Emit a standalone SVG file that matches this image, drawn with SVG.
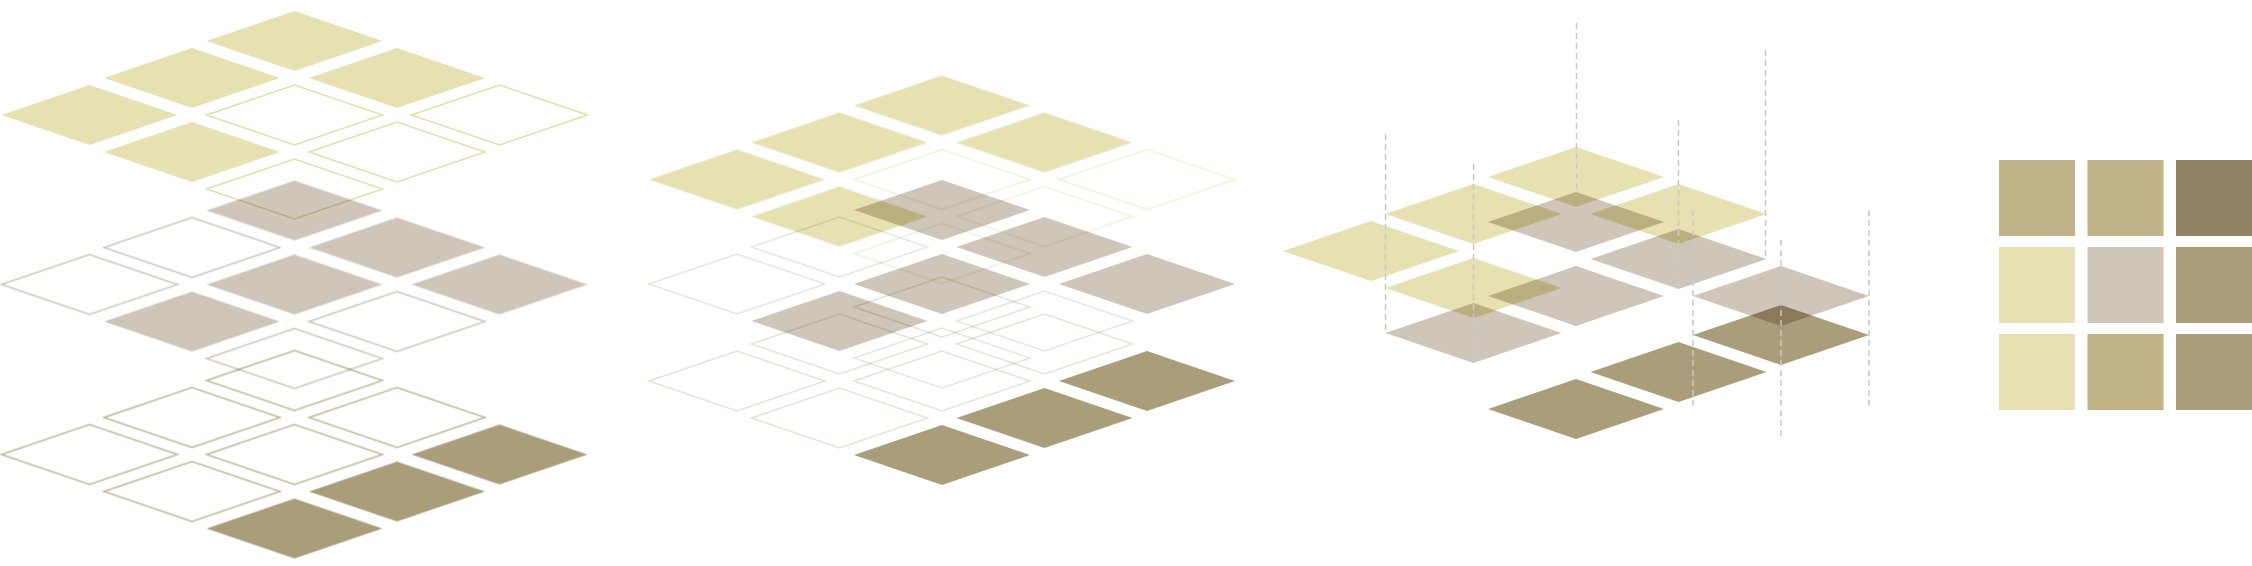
<svg xmlns="http://www.w3.org/2000/svg" xmlns:xlink="http://www.w3.org/1999/xlink" width="2252" height="566" viewBox="0 0 2252 566">
<style>
  .m{mix-blend-mode:multiply}
  .fy{fill:#e7e1b1}
  .fg{fill:#cfc6b9}
  .ft{fill:#aa9d7a}
  .oy{fill:none;stroke:#e6dea8;stroke-width:1.5}
  .og{fill:none;stroke:#cfc6b9;stroke-width:1.5}
  .ot{fill:none;stroke:#c2b795;stroke-width:1.5}
  .py{fill:none;stroke:#e7e1b1;stroke-width:1.5;stroke-opacity:0.5}
  .pg{fill:none;stroke:#cfc6b9;stroke-width:1.5;stroke-opacity:0.45}
  .pt{fill:none;stroke:#c2b795;stroke-width:1.5;stroke-opacity:0.4}
  .dash{stroke:#c9c9c9;stroke-width:1.5;stroke-dasharray:6 4;fill:none}
</style>
<defs>
  <polygon id="d" points="-88,0 0,-30 88,0 0,30"/>
</defs>
<rect width="2252" height="566" fill="#ffffff"/>

<g id="fig1">
  <g id="fig1-top" class="m">
    <use href="#d" class="fy" x="294.5" y="41"/>
    <use href="#d" class="fy" x="397" y="78"/>
    <use href="#d" class="fy" x="192" y="78"/>
    <use href="#d" class="fy" x="89.5" y="115"/>
    <use href="#d" class="fy" x="192" y="152"/>
    <use href="#d" class="oy" x="499.5" y="115"/>
    <use href="#d" class="oy" x="294.5" y="115"/>
    <use href="#d" class="oy" x="397" y="152"/>
    <use href="#d" class="oy" x="294.5" y="189"/>
  </g>
  <g id="fig1-mid">
    <use href="#d" class="fg m" x="294.5" y="210.5"/>
    <use href="#d" class="fg m" x="397" y="247.5"/>
    <use href="#d" class="fg m" x="499.5" y="284.5"/>
    <use href="#d" class="fg m" x="294.5" y="284.5"/>
    <use href="#d" class="fg m" x="192" y="321.5"/>
    <use href="#d" class="og m" x="192" y="247.5"/>
    <use href="#d" class="og m" x="89.5" y="284.5"/>
    <use href="#d" class="og m" x="397" y="321.5"/>
    <use href="#d" class="og m" x="294.5" y="358.5"/>
  </g>
  <g id="fig1-bot">
    <use href="#d" class="ft m" x="499.5" y="454.5"/>
    <use href="#d" class="ft m" x="397" y="491.5"/>
    <use href="#d" class="ft m" x="294.5" y="528.5"/>
    <use href="#d" class="ot m" x="294.5" y="380.5"/>
    <use href="#d" class="ot m" x="397" y="417.5"/>
    <use href="#d" class="ot m" x="192" y="417.5"/>
    <use href="#d" class="ot m" x="294.5" y="454.5"/>
    <use href="#d" class="ot m" x="89.5" y="454.5"/>
    <use href="#d" class="ot m" x="192" y="491.5"/>
  </g>
</g>

<g id="fig2">
  <g id="fig2-top">
    <use href="#d" class="fy m" x="942" y="105.5"/>
    <use href="#d" class="fy m" x="1044.5" y="142.5"/>
    <use href="#d" class="fy m" x="839.5" y="142.5"/>
    <use href="#d" class="fy m" x="737" y="179.5"/>
    <use href="#d" class="fy m" x="839.5" y="216.5"/>
    <use href="#d" class="py m" x="1147" y="179.5"/>
    <use href="#d" class="py m" x="942" y="179.5"/>
    <use href="#d" class="py m" x="1044.5" y="216.5"/>
    <use href="#d" class="py m" x="942" y="253.5"/>
  </g>
  <g id="fig2-mid">
    <use href="#d" class="fg m" x="942" y="210"/>
    <use href="#d" class="fg m" x="1044.5" y="247"/>
    <use href="#d" class="fg m" x="1147" y="284"/>
    <use href="#d" class="fg m" x="942" y="284"/>
    <use href="#d" class="fg m" x="839.5" y="321"/>
    <use href="#d" class="pg m" x="839.5" y="247"/>
    <use href="#d" class="pg m" x="737" y="284"/>
    <use href="#d" class="pg m" x="1044.5" y="321"/>
    <use href="#d" class="pg m" x="942" y="358"/>
  </g>
  <g id="fig2-bot">
    <use href="#d" class="ft m" x="1147" y="381"/>
    <use href="#d" class="ft m" x="1044.5" y="418"/>
    <use href="#d" class="ft m" x="942" y="455"/>
    <use href="#d" class="pt m" x="942" y="307"/>
    <use href="#d" class="pt m" x="1044.5" y="344"/>
    <use href="#d" class="pt m" x="839.5" y="344"/>
    <use href="#d" class="pt m" x="942" y="381"/>
    <use href="#d" class="pt m" x="737" y="381"/>
    <use href="#d" class="pt m" x="839.5" y="418"/>
  </g>
</g>

<g id="fig3">
  <g id="fig3-top">
    <use href="#d" class="fy m" x="1576" y="177"/>
    <use href="#d" class="fy m" x="1678.5" y="214"/>
    <use href="#d" class="fy m" x="1473.5" y="214"/>
    <use href="#d" class="fy m" x="1371" y="251"/>
    <use href="#d" class="fy m" x="1473.5" y="288"/>
  </g>
  <g id="fig3-mid">
    <use href="#d" class="fg m" x="1576" y="222"/>
    <use href="#d" class="fg m" x="1678.5" y="259"/>
    <use href="#d" class="fg m" x="1781" y="296"/>
    <use href="#d" class="fg m" x="1576" y="296"/>
    <use href="#d" class="fg m" x="1473.5" y="333"/>
  </g>
  <g id="fig3-bot">
    <use href="#d" class="ft m" x="1781" y="335"/>
    <use href="#d" class="ft m" x="1678.5" y="372"/>
    <use href="#d" class="ft m" x="1576" y="409"/>
  </g>
  <g id="connectors" class="dash">
    <line x1="1385.5" y1="134" x2="1385.5" y2="333"/>
    <line x1="1473.5" y1="164" x2="1473.5" y2="363"/>
    <line x1="1576.5" y1="23" x2="1576.5" y2="193"/>
    <line x1="1678.5" y1="120" x2="1678.5" y2="290"/>
    <line x1="1765.5" y1="50" x2="1765.5" y2="260"/>
    <line x1="1693" y1="210" x2="1693" y2="410"/>
    <line x1="1781" y1="240" x2="1781" y2="440"/>
    <line x1="1869" y1="210" x2="1869" y2="410"/>
  </g>
</g>

<g id="swatches">
  <rect x="1999" y="160" width="76" height="76" fill="#bfb387"/>
  <rect x="2087.5" y="160" width="76" height="76" fill="#bfb387"/>
  <rect x="2176" y="160" width="76" height="76" fill="#928563"/>
  <rect x="1999" y="247" width="76" height="76" fill="#e7e1b1"/>
  <rect x="2087.5" y="247" width="76" height="76" fill="#cfc6b9"/>
  <rect x="2176" y="247" width="76" height="76" fill="#aa9d7a"/>
  <rect x="1999" y="334" width="76" height="76" fill="#e7e1b1"/>
  <rect x="2087.5" y="334" width="76" height="76" fill="#bfb387"/>
  <rect x="2176" y="334" width="76" height="76" fill="#aa9d7a"/>
</g>
</svg>
